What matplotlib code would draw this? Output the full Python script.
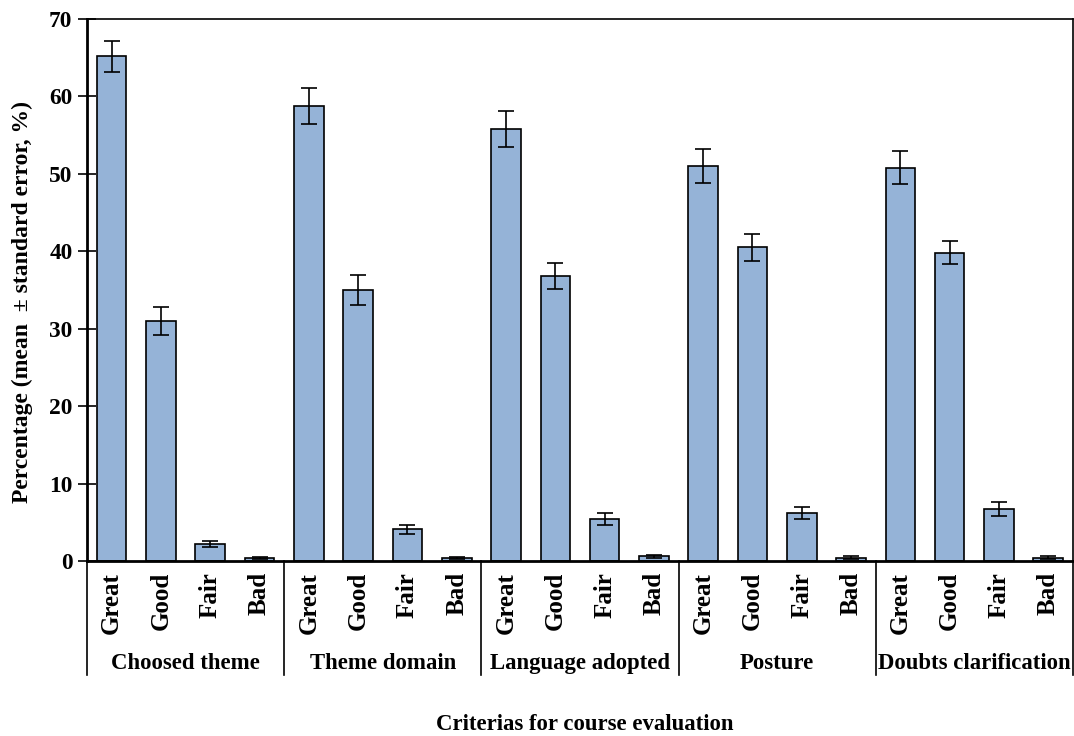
import numpy as np
import matplotlib.pyplot as plt

plt.rcParams['font.family'] = ['Liberation Serif', 'DejaVu Serif']
plt.rcParams['font.weight'] = 'bold'

groups = ['Choosed theme', 'Theme domain', 'Language adopted', 'Posture', 'Doubts clarification']
ratings = ['Great', 'Good', 'Fair', 'Bad']

# mean percentage per rating, one list per criterion
choosed_theme = [65.2, 31.0, 2.2, 0.4]
theme_domain = [58.8, 35.0, 4.1, 0.4]
language_adopted = [55.8, 36.8, 5.4, 0.6]
posture = [51.0, 40.5, 6.2, 0.4]
doubts_clarification = [50.8, 39.8, 6.7, 0.4]

# standard errors
choosed_theme_se = [2.0, 1.8, 0.35, 0.1]
theme_domain_se = [2.3, 1.9, 0.6, 0.1]
language_adopted_se = [2.3, 1.7, 0.8, 0.2]
posture_se = [2.2, 1.7, 0.8, 0.2]
doubts_clarification_se = [2.1, 1.5, 0.9, 0.2]

means = np.concatenate([choosed_theme, theme_domain, language_adopted,
                        posture, doubts_clarification])
errs = np.concatenate([choosed_theme_se, theme_domain_se, language_adopted_se,
                       posture_se, doubts_clarification_se])
x = np.arange(len(means))

fig = plt.figure(figsize=(10.74, 7.36), dpi=100)
ax = fig.add_axes([0.081, 0.2378, 0.918, 0.7364])

ax.bar(x, means, width=0.6, color='#95B3D7', edgecolor='black', linewidth=1.2,
       yerr=errs, capsize=6, error_kw=dict(ecolor='black', elinewidth=1.2, capthick=1.2))

ax.set_xlim(-0.5, len(means) - 0.5)
ax.set_ylim(0, 70)
ax.set_yticks(np.arange(0, 71, 10))
ax.tick_params(axis='y', direction='inout', length=13, width=1.2, labelsize=16.8, pad=4)
for lab in ax.get_yticklabels():
    lab.set_fontweight('bold')

ax.set_xticks(x)
ax.set_xticklabels(ratings * len(groups), rotation=90, fontsize=18, fontweight='bold')
ax.tick_params(axis='x', length=0, pad=8)

ax.spines['left'].set_linewidth(2)
ax.spines['bottom'].set_linewidth(2)
ax.spines['top'].set_linewidth(1.2)
ax.spines['right'].set_linewidth(1.2)

# group separators and group names under the rating labels
trans = ax.get_xaxis_transform()
for k in range(len(groups) + 1):
    xs = k * len(ratings) - 0.5
    ax.plot([xs, xs], [0, -0.21], color='black', lw=1.2, transform=trans, clip_on=False)
for k, g in enumerate(groups):
    xc = k * len(ratings) + (len(ratings) - 1) / 2
    ax.text(xc, -0.189, g, transform=trans, ha='center', va='center',
            fontsize=16.4, fontweight='bold')

fig.text(0.544, 0.015, 'Criterias for course evaluation', ha='center', va='center',
         fontsize=16.4, fontweight='bold')
fig.text(0.021, 0.59, 'Percentage (mean  \u00b1 standard error, %)', rotation=90,
         ha='center', va='center', fontsize=17, fontweight='bold')

fig.savefig('out.png', dpi=100)
